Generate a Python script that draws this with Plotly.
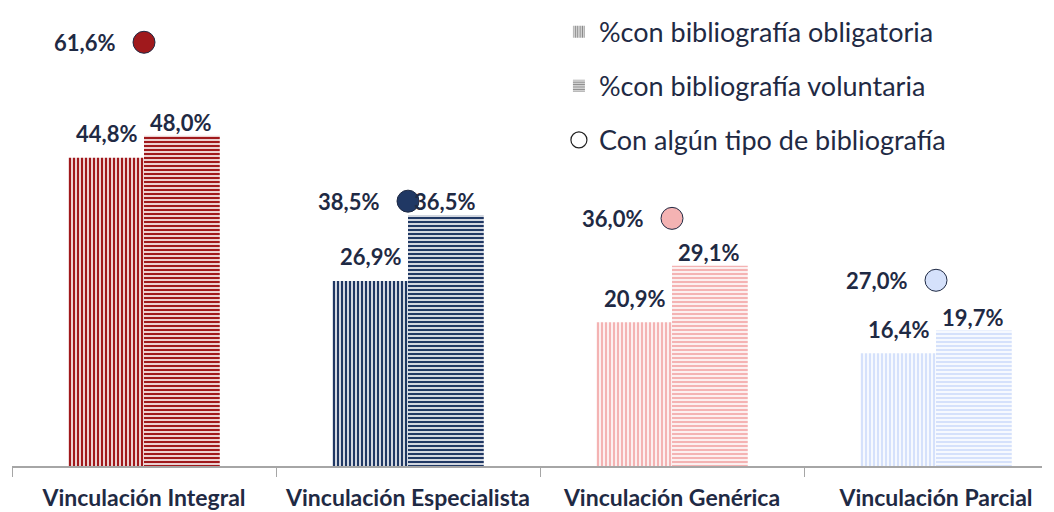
import plotly.graph_objects as go

categories = ["Vinculación Integral", "Vinculación Especialista", "Vinculación Genérica", "Vinculación Parcial"]
obligatoria = [44.8, 26.9, 20.9, 16.4]
voluntaria = [48.0, 36.5, 29.1, 19.7]
total = [61.6, 38.5, 36.0, 27.0]
colors = ["#A0191C", "#203864", "#F4B3B3", "#D5E1FB"]

series_names = ["%con bibliografía obligatoria", "%con bibliografía voluntaria", "Con algún tipo de bibliografía"]

def fmt(v):
    return f"{v:.1f}%".replace(".", ",")

txt_color = "#1F2A44"
font_fam = "Lato, 'Open Sans', sans-serif"
W = 0.287

fig = go.Figure()
for i, c in enumerate(categories):
    fig.add_trace(go.Bar(
        x=[c], y=[obligatoria[i]], width=W, offset=-W,
        marker=dict(color="white", line=dict(width=0),
                    pattern=dict(shape="|", fgcolor=colors[i], bgcolor="white",
                                 size=4, solidity=0.6, fillmode="replace")),
        showlegend=False, hoverinfo="skip"))
    fig.add_trace(go.Bar(
        x=[c], y=[voluntaria[i]], width=W, offset=0,
        marker=dict(color="white", line=dict(width=0),
                    pattern=dict(shape="-", fgcolor=colors[i], bgcolor="white",
                                 size=4, solidity=0.6, fillmode="replace")),
        showlegend=False, hoverinfo="skip"))
    fig.add_trace(go.Scatter(
        x=[c], y=[total[i]], mode="markers",
        marker=dict(size=22, color=colors[i], line=dict(color=txt_color, width=1)),
        showlegend=False, hoverinfo="skip"))

# legend-only traces
fig.add_trace(go.Bar(x=[None], y=[None], name=series_names[0], legendgroup="a",
                     marker=dict(color="white", line=dict(width=0),
                                 pattern=dict(shape="|", fgcolor="#111111", bgcolor="white", size=3, solidity=0.6))))
fig.add_trace(go.Bar(x=[None], y=[None], name=series_names[1], legendgroup="b",
                     marker=dict(color="white", line=dict(width=0),
                                 pattern=dict(shape="-", fgcolor="#111111", bgcolor="white", size=3, solidity=0.6))))
fig.add_trace(go.Scatter(x=[None], y=[None], name=series_names[2], mode="markers", legendgroup="c",
                         marker=dict(size=17, color="white", line=dict(color="#222222", width=1.2))))

ann = []
lab_font = dict(family=font_fam, size=22, color=txt_color, weight="bold")
for i, c in enumerate(categories):
    ann.append(dict(x=c, y=obligatoria[i], xref="x", yref="y", text=fmt(obligatoria[i]),
                    showarrow=False, xshift=-38, yshift=24, yanchor="middle", font=lab_font))
    ann.append(dict(x=c, y=voluntaria[i], xref="x", yref="y", text=fmt(voluntaria[i]),
                    showarrow=False, xshift=36, yshift=13, yanchor="middle", font=lab_font))
    ann.append(dict(x=c, y=total[i], xref="x", yref="y", text=fmt(total[i]),
                    showarrow=False, xshift=-27, xanchor="right", yanchor="middle", font=lab_font))

fig.update_layout(
    width=1054, height=512,
    margin=dict(l=12, r=12, t=12, b=46, autoexpand=False),
    paper_bgcolor="white", plot_bgcolor="white",
    barmode="overlay",
    annotations=ann,
    showlegend=True,
    legend=dict(x=0.531, y=1.0096, xanchor="left", yanchor="top",
                font=dict(family=font_fam, size=27, color=txt_color),
                traceorder="grouped", tracegroupgap=16, bgcolor="rgba(0,0,0,0)"),
    xaxis=dict(range=[-0.5, 3.4015], showline=True, linecolor="#A6A6A6", linewidth=1.5,
               ticks="outside", tickson="boundaries", ticklen=9, tickcolor="#A6A6A6",
               ticklabelstandoff=11, automargin=False,
               tickfont=dict(family=font_fam, size=23, color=txt_color, weight="bold"),
               showgrid=False, zeroline=False),
    yaxis=dict(range=[0, 66], visible=False, showgrid=False, zeroline=False, automargin=False),
)

fig.write_html("out.html", config={"displayModeBar": False},
               post_script="document.body.style.margin='0';document.body.style.overflow='hidden';")
